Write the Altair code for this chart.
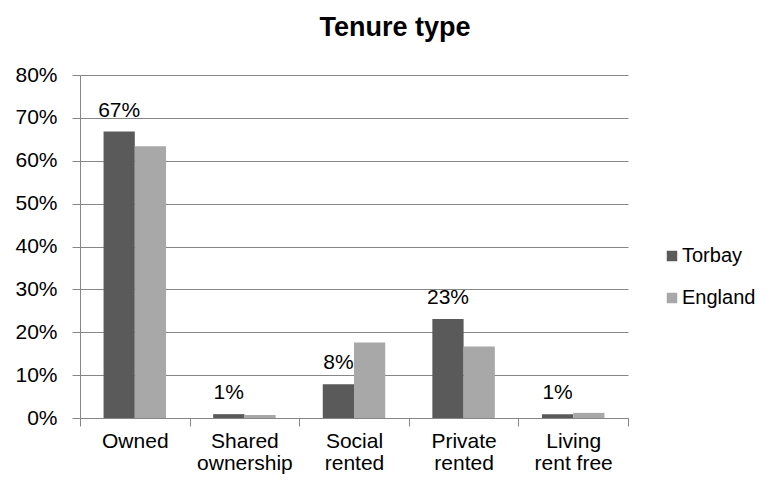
import json
import altair as alt
import pandas as pd

categories = ["Owned", "Shared ownership", "Social rented", "Private rented", "Living rent free"]
label_lines = [["Owned"], ["Shared", "ownership"], ["Social", "rented"], ["Private", "rented"], ["Living", "rent free"]]
series = ["Torbay", "England"]
torbay = [0.668, 0.009, 0.079, 0.231, 0.009]
england = [0.634, 0.007, 0.176, 0.167, 0.012]
colors = ["#5a5a5a", "#a8a8a8"]

rows = []
for c, t, e in zip(categories, torbay, england):
    rows.append({"category": c, "series": "Torbay", "value": t})
    rows.append({"category": c, "series": "England", "value": e})
df = pd.DataFrame(rows)

expr = "datum.value"
for c, lines in reversed(list(zip(categories, label_lines))):
    expr = f"datum.value == {json.dumps(c)} ? {json.dumps(lines)} : ({expr})"

FONT = "Liberation Sans"
GRAY = "#868686"
FS = 21

x = alt.X(
    "category:N", sort=categories, title=None,
    scale=alt.Scale(paddingInner=0, paddingOuter=0),
    axis=alt.Axis(labelExpr=expr, labelAngle=0, tickBand="extent", tickSize=8,
                  labelPadding=4, labelLineHeight=22, labelFontSize=FS,
                  labelColor="#000000", domainColor=GRAY, tickColor=GRAY,
                  labelFont=FONT),
)
xoff = alt.XOffset("series:N", sort=series,
                   scale=alt.Scale(paddingInner=0, paddingOuter=0.754))
y = alt.Y(
    "value:Q", title=None,
    scale=alt.Scale(domain=[0, 0.8]),
    axis=alt.Axis(format=".0%", tickCount=8, grid=True, gridColor=GRAY,
                  domainColor=GRAY, tickColor=GRAY, tickSize=8, labelPadding=15,
                  labelFontSize=FS, labelColor="#000000", labelFont=FONT),
)
color = alt.Color(
    "series:N", sort=series,
    scale=alt.Scale(domain=series, range=colors),
    legend=alt.Legend(title=None, orient="none", legendX=582, legendY=171,
                      symbolType="square", symbolSize=110, symbolStrokeWidth=0,
                      labelFontSize=20, labelFont=FONT, labelColor="#000000",
                      rowPadding=22, padding=0, labelOffset=0),
)

bars = alt.Chart(df).mark_bar().encode(x=x, xOffset=xoff, y=y, color=color)
text = alt.Chart(df).transform_filter(alt.datum.series == "Torbay").mark_text(
    baseline="alphabetic", dy=-15, fontSize=FS, font=FONT, color="#000000"
).encode(x=x, xOffset=xoff, y=y, text=alt.Text("value:Q", format=".0%"))

chart = alt.layer(bars, text).properties(
    width=548, height=343,
    autosize=alt.AutoSizeParams(type="none"),
    padding={"left": 72, "top": 67, "right": 136, "bottom": 58},
    title=alt.Title("Tenure type", fontSize=27, font=FONT, fontWeight="bold",
                    color="#000000", anchor="middle", dx=41, offset=22),
    background="#ffffff",
).configure_view(stroke=None)

chart.save("out.html", embed_options={"renderer": "svg", "actions": False})
